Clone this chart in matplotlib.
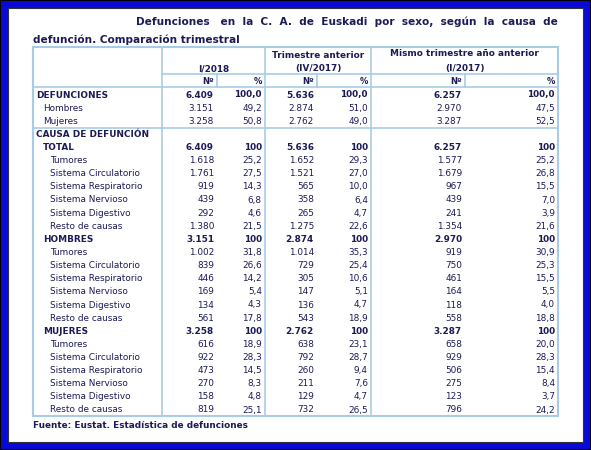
import matplotlib
matplotlib.use("Agg")
import matplotlib.pyplot as plt
from matplotlib.patches import Rectangle
from matplotlib.lines import Line2D

labels = ["DEFUNCIONES", "Hombres", "Mujeres", "CAUSA DE DEFUNCIÓN", "TOTAL",
          "Tumores", "Sistema Circulatorio", "Sistema Respiratorio", "Sistema Nervioso", "Sistema Digestivo", "Resto de causas",
          "HOMBRES", "Tumores", "Sistema Circulatorio", "Sistema Respiratorio", "Sistema Nervioso", "Sistema Digestivo", "Resto de causas",
          "MUJERES", "Tumores", "Sistema Circulatorio", "Sistema Respiratorio", "Sistema Nervioso", "Sistema Digestivo", "Resto de causas"]
bold_rows = {0, 3, 4, 11, 18}
indent = [0, 1, 1, 0, 1, 2, 2, 2, 2, 2, 2, 1, 2, 2, 2, 2, 2, 2, 1, 2, 2, 2, 2, 2, 2]
n_2018 = ["6.409", "3.151", "3.258", "", "6.409", "1.618", "1.761", "919", "439", "292", "1.380",
          "3.151", "1.002", "839", "446", "169", "134", "561", "3.258", "616", "922", "473", "270", "158", "819"]
p_2018 = ["100,0", "49,2", "50,8", "", "100", "25,2", "27,5", "14,3", "6,8", "4,6", "21,5",
          "100", "31,8", "26,6", "14,2", "5,4", "4,3", "17,8", "100", "18,9", "28,3", "14,5", "8,3", "4,8", "25,1"]
n_prev = ["5.636", "2.874", "2.762", "", "5.636", "1.652", "1.521", "565", "358", "265", "1.275",
          "2.874", "1.014", "729", "305", "147", "136", "543", "2.762", "638", "792", "260", "211", "129", "732"]
p_prev = ["100,0", "51,0", "49,0", "", "100", "29,3", "27,0", "10,0", "6,4", "4,7", "22,6",
          "100", "35,3", "25,4", "10,6", "5,1", "4,7", "18,9", "100", "23,1", "28,7", "9,4", "7,6", "4,7", "26,5"]
n_year = ["6.257", "2.970", "3.287", "", "6.257", "1.577", "1.679", "967", "439", "241", "1.354",
          "2.970", "919", "750", "461", "164", "118", "558", "3.287", "658", "929", "506", "275", "123", "796"]
p_year = ["100,0", "47,5", "52,5", "", "100", "25,2", "26,8", "15,5", "7,0", "3,9", "21,6",
          "100", "30,9", "25,3", "15,5", "5,5", "4,0", "18,8", "100", "20,0", "28,3", "15,4", "8,4", "3,7", "24,2"]

W, H = 591, 450
fig = plt.figure(figsize=(W/100, H/100), dpi=100)
ax = fig.add_axes([0, 0, 1, 1])
ax.set_xlim(0, W); ax.set_ylim(H, 0); ax.axis("off")

TXT = "#1b1b55"
LN = "#a8cce6"
ax.add_patch(Rectangle((0, 0), W, H, facecolor="#0a0ad8", edgecolor="black", lw=1.5))
ax.add_patch(Rectangle((8, 8), W-16, H-16, facecolor="white", edgecolor="#333", lw=0.8))

fs = 6.4
ax.text(558, 22, "Defunciones   en  la  C.  A.  de  Euskadi  por  sexo,  según  la  causa  de",
        ha="right", va="center", fontsize=7.6, fontweight="bold", color=TXT)
ax.text(33, 40, "defunción. Comparación trimestral", ha="left", va="center",
        fontsize=7.6, fontweight="bold", color=TXT)

x0, x1 = 33, 558
cols = [162, 217, 265, 317, 371, 465]
top, hsub, hdata = 47, 74, 87
def hl(y, xa=x0, xb=x1, lw=1.2):
    ax.add_line(Line2D([xa, xb], [y, y], color=LN, lw=lw))
def vl(x, ya, yb, lw=1.2):
    ax.add_line(Line2D([x, x], [ya, yb], color=LN, lw=lw))

row_h = 13.125
y_first = 95
bottom = 416
ax.add_patch(Rectangle((x0, top), x1-x0, bottom-top, fill=False, edgecolor=LN, lw=1.5))
hl(hsub, cols[0]); hl(hdata)
hl(128)
for c in [cols[0], cols[2], cols[4]]:
    vl(c, top, bottom)
for c in [cols[1], cols[3], cols[5]]:
    vl(c, hsub, hdata)

ax.text((cols[0]+cols[2])/2, 69, "I/2018", ha="center", va="center", fontsize=fs, fontweight="bold", color=TXT)
ax.text((cols[2]+cols[4])/2, 56, "Trimestre anterior", ha="center", va="center", fontsize=fs, fontweight="bold", color=TXT)
ax.text((cols[2]+cols[4])/2, 69, "(IV/2017)", ha="center", va="center", fontsize=fs, fontweight="bold", color=TXT)
ax.text((cols[4]+x1)/2, 54, "Mismo trimestre año anterior", ha="center", va="center", fontsize=fs, fontweight="bold", color=TXT)
ax.text((cols[4]+x1)/2, 68, "(I/2017)", ha="center", va="center", fontsize=fs, fontweight="bold", color=TXT)
rights = [cols[1], cols[2], cols[3], cols[4], cols[5], x1]
for i, r in enumerate(rights):
    ax.text(r-3, 81, "Nº" if i % 2 == 0 else "%", ha="right", va="center", fontsize=fs-0.4, fontweight="bold", color=TXT)

series = [n_2018, p_2018, n_prev, p_prev, n_year, p_year]
for i, lab in enumerate(labels):
    y = y_first + i*row_h
    w = "bold" if i in bold_rows else "normal"
    ax.text(x0 + 3 + indent[i]*7, y, lab,
            ha="left", va="center", fontsize=fs, fontweight=w, color=TXT)
    for s, r in zip(series, rights):
        ax.text(r-3, y, s[i], ha="right", va="center", fontsize=fs, fontweight=w, color=TXT)

ax.text(33, 425, "Fuente: Eustat. Estadística de defunciones", ha="left", va="center",
        fontsize=fs, fontweight="bold", color=TXT)

fig.savefig("out.png", dpi=100)
